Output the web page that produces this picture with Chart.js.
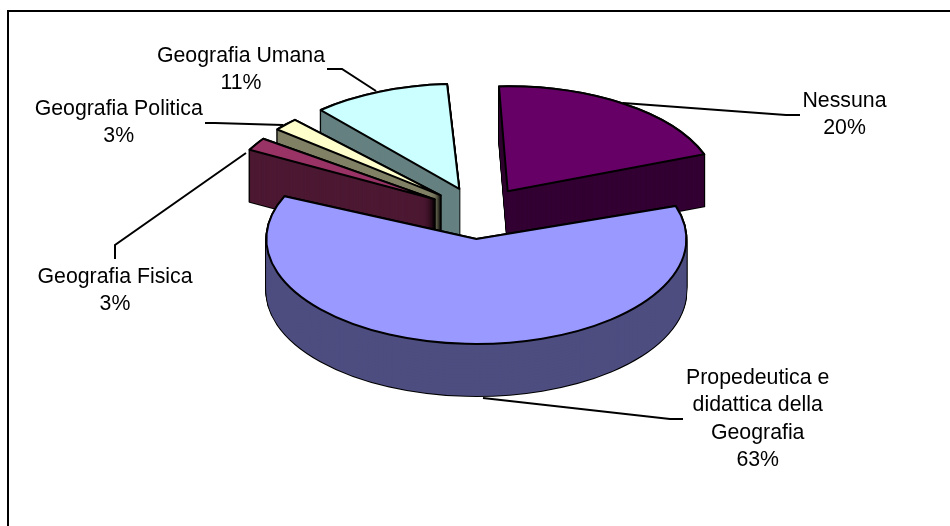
<!DOCTYPE html>
<html>
<head>
<meta charset="utf-8">
<title>Geografia</title>
<script src="https://cdn.jsdelivr.net/npm/chart.js@4/dist/chart.umd.min.js"></script>
<style>
  body { margin: 0; background: #fff; }
  canvas { display: block; }
</style>
</head>
<body>
<canvas id="pieChart" width="950" height="526"></canvas>
<script>
// Dati del grafico
const categories = ['Nessuna', 'Propedeutica e didattica della Geografia', 'Geografia Fisica', 'Geografia Politica', 'Geografia Umana'];
const values = [20, 63, 3, 3, 11];

// Colori: faccia superiore e parete laterale
const topColors = ['#660066', '#9999ff', '#993366', '#ffffcc', '#ccffff'];
const wallColors = ['#330033', '#4d4d80', '#4d1933', '#808066', '#668080'];

// Geometria della torta
const radius = 210;
const squash = 0.5;
const centerX = 479;
const centerY = 213;
const depth = 52;
const explode = 52;
const drawOrder = [4, 3, 2, 0, 1];

// Etichette e linee guida
const labelStyle = [
  { x: 844.5, y: 101, lines: ['Nessuna'], leader: [[623, 103], [786, 115], [800, 115]] },
  { x: 757.7, y: 378, lines: ['Propedeutica e', 'didattica della', 'Geografia'], leader: [[483, 398], [670, 419], [683, 419]] },
  { x: 115, y: 277, lines: ['Geografia Fisica'], leader: [[246, 153], [115, 245], [115, 259]] },
  { x: 118.7, y: 109, lines: ['Geografia Politica'], leader: [[283, 125], [215, 123], [205, 123]] },
  { x: 241, y: 56, lines: ['Geografia Umana'], leader: [[376, 91], [342, 69], [327, 69]] }
];

const total = values.reduce((a, b) => a + b, 0);

function drawArcWith(arc, ctx, overrides) {
  const saved = arc.options;
  const opts = Object.create(saved);
  Object.keys(overrides).forEach(k => {
    Object.defineProperty(opts, k, { value: overrides[k] });
  });
  arc.options = opts;
  arc.draw(ctx);
  arc.options = saved;
}

function drawLayer(arc, ctx, d, overrides) {
  ctx.save();
  ctx.translate(0, d / squash);
  drawArcWith(arc, ctx, overrides);
  ctx.restore();
}

const pie3d = {
  id: 'pie3d',
  // la libreria allarga il raggio degli spicchi staccati: lo riporto al valore giusto
  afterDatasetsUpdate(chart) {
    chart.getDatasetMeta(0).data.forEach(arc => {
      const fix = 1 - Math.sin(Math.min(Math.PI, arc.circumference));
      arc.outerRadius = radius - explode * fix;
    });
  },
  beforeDraw(chart) {
    const ctx = chart.ctx;
    ctx.save();
    ctx.fillStyle = '#fff';
    ctx.fillRect(0, 0, chart.width, chart.height);
    // cornice: solo lato sinistro e superiore entrano nella foto
    ctx.strokeStyle = '#000';
    ctx.lineWidth = 2;
    ctx.beginPath();
    ctx.moveTo(8, chart.height);
    ctx.lineTo(8, 11);
    ctx.lineTo(chart.width, 11);
    ctx.stroke();
    ctx.restore();
  },
  beforeDatasetsDraw(chart) {
    const ctx = chart.ctx;
    const arcs = chart.getDatasetMeta(0).data;
    ctx.save();
    ctx.translate(0, centerY);
    ctx.scale(1, squash);
    ctx.translate(0, -centerY);
    // tratto uniforme anche con la scala verticale
    const dpr = chart.currentDevicePixelRatio;
    const plainStroke = CanvasRenderingContext2D.prototype.stroke;
    ctx.stroke = function () {
      ctx.save();
      ctx.setTransform(dpr, 0, 0, dpr, 0, 0);
      plainStroke.call(ctx);
      ctx.restore();
    };
    drawOrder.forEach(i => {
      const arc = arcs[i];
      for (let d = depth; d >= 0; d--) {
        drawLayer(arc, ctx, d, { backgroundColor: wallColors[i] });
      }
      // spicchio grande: passo largo, troppi strati fanno bande di colore.
      // spicchi stretti: passo fine, altrimenti restano buchi vicino alla punta
      const step = arc.circumference > 2 ? 3 : 0.5;
      for (let d = depth; d > 0; d -= step) {
        drawLayer(arc, ctx, d, { backgroundColor: wallColors[i], borderWidth: 0 });
      }
      drawLayer(arc, ctx, 0, { backgroundColor: wallColors[i], borderWidth: 0 });
    });
  },
  afterDatasetsDraw(chart) {
    delete chart.ctx.stroke;
    chart.ctx.restore();
  },
  afterDraw(chart) {
    const ctx = chart.ctx;
    ctx.save();
    ctx.strokeStyle = '#000';
    ctx.lineWidth = 2;
    ctx.fillStyle = '#000';
    ctx.font = '21.3px "Liberation Sans"';
    ctx.textAlign = 'center';
    ctx.textBaseline = 'middle';
    labelStyle.forEach((lab, i) => {
      ctx.beginPath();
      lab.leader.forEach((p, j) => (j ? ctx.lineTo(p[0], p[1]) : ctx.moveTo(p[0], p[1])));
      ctx.stroke();
      const pct = Math.round(values[i] / total * 100) + '%';
      lab.lines.concat(pct).forEach((txt, j) => ctx.fillText(txt, lab.x, lab.y + j * 27.4));
    });
    ctx.restore();
  }
};

new Chart(document.getElementById('pieChart').getContext('2d'), {
  type: 'pie',
  data: {
    labels: categories,
    datasets: [{
      data: values,
      backgroundColor: topColors,
      borderColor: '#000',
      borderWidth: 2,
      borderJoinStyle: 'round',
      offset: explode * 4,
      clip: false
    }]
  },
  options: {
    responsive: false,
    animation: false,
    rotation: -2.5,
    radius: radius,
    layout: { padding: { left: (centerX - 475) * 2, bottom: 526 - centerY * 2 } },
    plugins: { legend: { display: false }, tooltip: { enabled: false } }
  },
  plugins: [pie3d]
});
</script>
</body>
</html>
